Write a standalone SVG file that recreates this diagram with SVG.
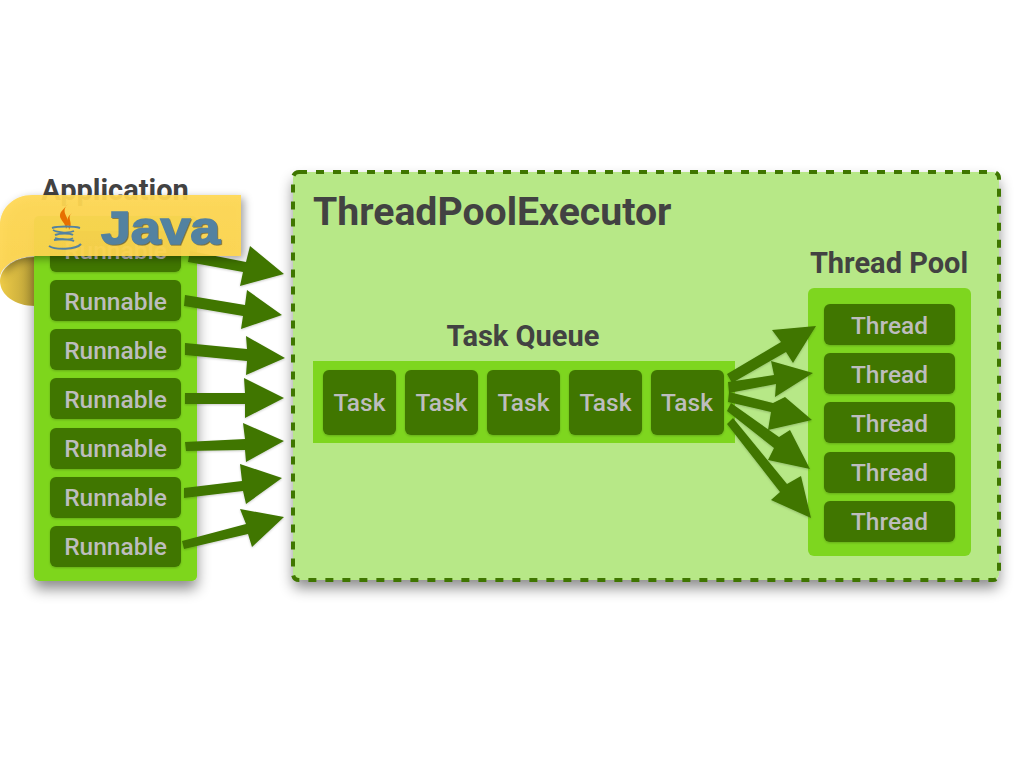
<svg xmlns="http://www.w3.org/2000/svg" width="1024" height="768" viewBox="0 0 1024 768">
<defs>
<filter id="panelShadow" x="-20%" y="-20%" width="140%" height="140%"><feDropShadow dx="0" dy="8" stdDeviation="7" flood-color="#000" flood-opacity="0.45"/></filter>
<filter id="soft" x="-30%" y="-30%" width="160%" height="160%"><feDropShadow dx="0" dy="1" stdDeviation="0.800" flood-color="#000" flood-opacity="0.2"/></filter>
<filter id="ribbonShadow" x="-20%" y="-30%" width="140%" height="170%"><feDropShadow dx="3" dy="3" stdDeviation="4" flood-color="#000" flood-opacity="0.4"/></filter>
<linearGradient id="curl" x1="0" y1="0" x2="1" y2="0"><stop offset="0" stop-color="#eecb47"/><stop offset="1" stop-color="#b9a038"/></linearGradient>
<linearGradient id="band" x1="0" y1="0" x2="0" y2="1"><stop offset="0" stop-color="#ffd854"/><stop offset="1" stop-color="#fdd44c"/></linearGradient>
</defs>
<style>
text{font-family:Roboto,"Liberation Sans",sans-serif}
.panel{fill:#7ed61f}
.item{fill:#3f7600;filter:url(#soft)}
.lbl{fill:#bdbdbd;font-size:24.500px;font-weight:500;text-anchor:middle}
.ttl{fill:#424242;font-weight:700;font-size:29px;text-anchor:middle}
.arrow{fill:#3f7600;stroke:none}
</style>
<g id="executor">
<rect x="293" y="172" width="706" height="408" rx="6" fill="#b7e887" filter="url(#panelShadow)"/>
<rect x="293" y="172" width="706" height="408" rx="6" fill="none" stroke="#3f7600" stroke-width="4" stroke-dasharray="8 9"/>
<text x="313" y="225" fill="#424242" font-size="39.200" font-weight="700">ThreadPoolExecutor</text>
</g>
<g id="curl-back"><path d="M35,257 C12,257 0,270 0,281 C0,295 15,306 35,306 Z" fill="url(#curl)"/></g>
<g id="application">
<text class="ttl" x="115" y="200">Application</text>
<rect class="panel" x="34" y="216" width="163" height="365" rx="5" filter="url(#panelShadow)"/>
</g>
<g id="r1"><rect class="item" x="50" y="231" width="131" height="41" rx="6"/><text class="lbl" x="115.500" y="259">Runnable</text></g>
<g id="r2"><rect class="item" x="50" y="280" width="131" height="41" rx="6"/><text class="lbl" x="115.500" y="310">Runnable</text></g>
<g id="r3"><rect class="item" x="50" y="329" width="131" height="41" rx="6"/><text class="lbl" x="115.500" y="359">Runnable</text></g>
<g id="r4"><rect class="item" x="50" y="378" width="131" height="41" rx="6"/><text class="lbl" x="115.500" y="408">Runnable</text></g>
<g id="r5"><rect class="item" x="50" y="428" width="131" height="41" rx="6"/><text class="lbl" x="115.500" y="457">Runnable</text></g>
<g id="r6"><rect class="item" x="50" y="477" width="131" height="41" rx="6"/><text class="lbl" x="115.500" y="506">Runnable</text></g>
<g id="r7"><rect class="item" x="50" y="526" width="131" height="41" rx="6"/><text class="lbl" x="115.500" y="555">Runnable</text></g>
<g id="queue">
<text class="ttl" x="523" y="346">Task Queue</text>
<rect class="panel" x="313" y="361" width="422" height="82"/>
</g>
<g id="t1"><rect class="item" x="323" y="370" width="73" height="65" rx="6"/><text class="lbl" x="359.500" y="411">Task</text></g>
<g id="t2"><rect class="item" x="405" y="370" width="73" height="65" rx="6"/><text class="lbl" x="441.500" y="411">Task</text></g>
<g id="t3"><rect class="item" x="487" y="370" width="73" height="65" rx="6"/><text class="lbl" x="523.500" y="411">Task</text></g>
<g id="t4"><rect class="item" x="569" y="370" width="73" height="65" rx="6"/><text class="lbl" x="605.500" y="411">Task</text></g>
<g id="t5"><rect class="item" x="651" y="370" width="73" height="65" rx="6"/><text class="lbl" x="687" y="411">Task</text></g>
<g id="pool">
<text class="ttl" x="889" y="273">Thread Pool</text>
<rect class="panel" x="808" y="288" width="163" height="268" rx="6"/>
</g>
<g id="th1"><rect class="item" x="824" y="304" width="131" height="41" rx="6"/><text class="lbl" x="889.500" y="334">Thread</text></g>
<g id="th2"><rect class="item" x="824" y="353" width="131" height="41" rx="6"/><text class="lbl" x="889.500" y="383">Thread</text></g>
<g id="th3"><rect class="item" x="824" y="402" width="131" height="41" rx="6"/><text class="lbl" x="889.500" y="432">Thread</text></g>
<g id="th4"><rect class="item" x="824" y="452" width="131" height="41" rx="6"/><text class="lbl" x="889.500" y="481">Thread</text></g>
<g id="th5"><rect class="item" x="824" y="501" width="131" height="41" rx="6"/><text class="lbl" x="889.500" y="530">Thread</text></g>
<g id="connectors" filter="url(#soft)">
<polygon class="arrow" points="190,251 246,262 250,246 284,274 240,286 243,272 188,262"/>
<polygon class="arrow" points="185,295 245,305 247,290 282,315 241,329 243,316 184,306"/>
<polygon class="arrow" points="185,343 247,349 246,336 285,358 246,375 247,361 185,355"/>
<polygon class="arrow" points="185,393 245,393 244,378 284,398 245,418 245,404 185,404"/>
<polygon class="arrow" points="185,442 245,439 243,423 284,441 246,462 245,450 186,451"/>
<polygon class="arrow" points="184,488 242,481 240,464 282,478 246,504 243,491 184,498"/>
<polygon class="arrow" points="182,541 246,524 240,509 284,517 252,547 248,534 184,549"/>
<polygon class="arrow" points="727,374 781,342 772,330 816,326 793,363 786,352 732,383"/>
<polygon class="arrow" points="728,382 774,375 771,361 813,373 775,397 776,384 729,393"/>
<polygon class="arrow" points="729,392 773,403 785,397 812,420 768,430 771,412 728,402"/>
<polygon class="arrow" points="731,403 779,437 790,430 810,469 768,460 774,448 727,411"/>
<polygon class="arrow" points="733,418 787,484 801,476 811,518 771,500 780,492 727,424"/>
</g>
<g id="java-ribbon">
<path d="M32,195 H241 V256 H36 C14,256 0,268 0,278 V225 C0,208 14,195 32,195 Z" fill="url(#band)" fill-opacity="0.93" filter="url(#ribbonShadow)"/>
<path d="M68,204 C58,214 74,218 66,229 C66,222 57,219 61,212 C63,209 66,207 68,204 Z" fill="#e76f00"/>
<path d="M72,213 C66,218 74,222 69,230 C69,224 64,219 72,213 Z" fill="#e76f00"/>
<path d="M52,228 C58,226 74,226 80,228 M55,235 C60,233 70,233 73,235 M54,240 C60,239 70,239 74,241 M49,246 C55,250 76,250 81,244" fill="none" stroke="#5382a1" stroke-width="2"/>
<path d="M53,230 C58,233 70,233 74,231 M55,238 C60,240 70,240 73,238" fill="none" stroke="#5382a1" stroke-width="1.500"/>
<text x="101" y="244" font-size="47" font-weight="700" fill="#4e4b32" fill-opacity="0.55" stroke="#4e4b32" stroke-opacity="0.55" stroke-width="1.500" style="font-family:'Liberation Sans',sans-serif" textLength="119" lengthAdjust="spacingAndGlyphs" transform="translate(1,1)">Java</text>
<text x="101" y="244" font-size="47" font-weight="700" fill="#5382a1" stroke="#5382a1" stroke-width="1.500" style="font-family:'Liberation Sans',sans-serif" textLength="119" lengthAdjust="spacingAndGlyphs">Java</text>
</g>
</svg>
